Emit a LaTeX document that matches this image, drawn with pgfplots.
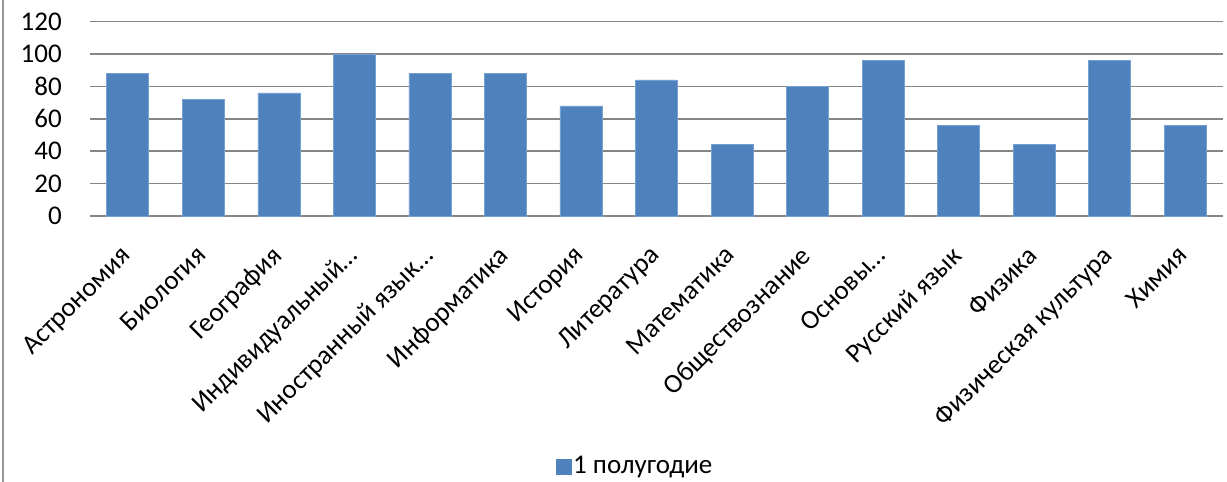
\documentclass[border=0pt]{standalone}
\usepackage{pgfplots}
\pgfplotsset{compat=1.18}
\usepackage{fontspec}
\setmainfont{Carlito}
\definecolor{barblue}{RGB}{79,129,189}
\definecolor{baredge}{RGB}{118,160,210}
\definecolor{gridgray}{RGB}{134,134,134}
\definecolor{framegray}{RGB}{150,150,150}
\begin{document}
\fontsize{27}{32}\selectfont
\begin{tikzpicture}[x=1pt,y=1pt]
\useasboundingbox (0,0) rectangle (1227,482);
\draw[color=framegray, line width=1.5pt] (3,0) -- (3,482);
\begin{axis}[
  at={(90pt,266pt)}, anchor=south west,
  scale only axis, width=1133pt, height=194.3pt,
  xmin=-0.5, xmax=14.5, ymin=0, ymax=120,
  ytick={0,20,...,120},
  xtick={0,...,14},
  xticklabels={Астрономия, Биология, География, Индивидуальный…, Иностранный язык…, Информатика, История, Литература, Математика, Обществознание, Основы…, Русский язык, Физика, Физическая культура, Химия},
  axis x line*=bottom, axis y line*=left,
  y axis line style={draw=none},
  x axis line style={draw=gridgray, line width=1.5pt},
  major tick length=0pt,
  ymajorgrids, grid style={draw=gridgray, line width=1.5pt},
  /pgf/number format/assume math mode=true,
  yticklabel style={anchor=east, inner sep=0pt, xshift=-28pt},
  xticklabel style={rotate=45, anchor=north east, inner sep=0pt, xshift=-26pt, yshift=-14pt},
  legend style={at={(0.481,-1.292)}, anchor=center, draw=none, fill=none, inner sep=0pt,
    legend cell align=left, /tikz/every even column/.append style={column sep=0pt}},
  legend image code/.code={\fill[barblue] (-3pt,-7.5pt) rectangle (12pt,7.5pt);},
]
\addplot[ybar, bar width=42pt, fill=barblue, draw=baredge, line width=0.6pt]
  coordinates {(0,88) (1,72) (2,76) (3,100) (4,88) (5,88) (6,68) (7,84) (8,44) (9,80) (10,96) (11,56) (12,44) (13,96) (14,56)};
\addlegendentry{1 полугодие}
\end{axis}
\end{tikzpicture}
\end{document}
